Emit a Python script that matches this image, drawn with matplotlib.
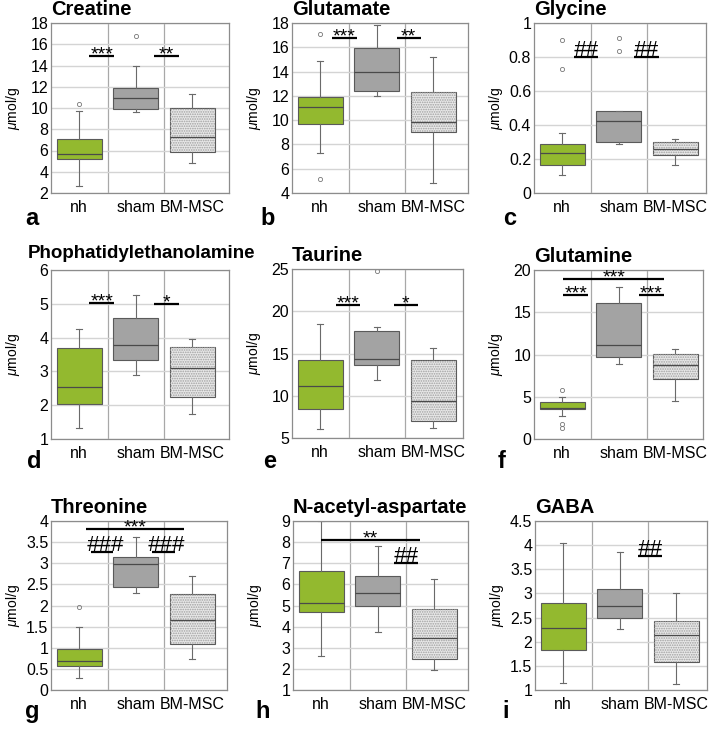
import matplotlib
matplotlib.use('Agg')
import matplotlib.pyplot as plt
from matplotlib.patches import PathPatch
from matplotlib.ticker import FuncFormatter
from matplotlib.transforms import ScaledTranslation
import numpy as np

plt.rcParams['font.family'] = ['Liberation Sans', 'DejaVu Sans']
plt.rcParams['mathtext.fontset'] = 'custom'
plt.rcParams['mathtext.it'] = 'Liberation Sans:italic'
plt.rcParams['mathtext.rm'] = 'Liberation Sans'
plt.rcParams['hatch.linewidth'] = 0.8

groups = ['nh', 'sham', 'BM-MSC']
titles = ['Creatine', 'Glutamate', 'Glycine', 'Phophatidylethanolamine', 'Taurine',
          'Glutamine', 'Threonine', 'N-acetyl-aspartate', 'GABA']
letters = ['a', 'b', 'c', 'd', 'e', 'f', 'g', 'h', 'i']

# whisker low, q1, median, q3, whisker high  (nh, sham, BM-MSC)
creatine = [[2.7, 5.2, 5.7, 7.1, 9.7], [9.6, 9.95, 10.9, 11.85, 13.95], [4.8, 5.9, 7.25, 10.0, 11.35]]
creatine_out = [[10.35], [16.75], []]
glutamate = [[7.26, 9.68, 11.1, 11.93, 14.85], [12.0, 12.4, 13.96, 15.97, 17.83], [4.83, 9.04, 9.84, 12.35, 15.19]]
glutamate_out = [[17.1, 5.17], [], []]
glycine = [[0.107, 0.164, 0.237, 0.29, 0.353], [0.29, 0.30, 0.426, 0.48, 0.48], [0.162, 0.221, 0.26, 0.302, 0.32]]
glycine_out = [[0.73, 0.90], [0.836, 0.911], []]
pe = [[1.33, 2.04, 2.53, 3.68, 4.26], [2.89, 3.35, 3.79, 4.58, 5.25], [1.74, 2.25, 3.11, 3.71, 3.96]]
pe_out = [[], [], []]
taurine = [[6.1, 8.42, 11.18, 14.26, 18.48], [11.86, 13.68, 14.35, 17.66, 18.1], [6.18, 7.05, 9.38, 14.19, 15.65]]
taurine_out = [[], [24.8], []]
glutamine = [[2.69, 3.52, 3.64, 4.39, 4.98], [8.89, 9.72, 11.07, 16.05, 18.02], [4.5, 7.11, 8.81, 10.04, 10.67]]
glutamine_out = [[5.77, 1.25, 1.75], [], []]
threonine = [[0.28, 0.57, 0.69, 0.97, 1.48], [2.30, 2.44, 2.99, 3.15, 3.62], [0.73, 1.09, 1.65, 2.27, 2.69]]
threonine_out = [[1.96], [], []]
naa = [[2.62, 4.7, 5.11, 6.61, 9.0], [3.73, 5.0, 5.59, 6.4, 7.83], [1.95, 2.48, 3.45, 4.82, 6.24]]
naa_out = [[], [], []]
gaba = [[1.14, 1.83, 2.29, 2.81, 4.05], [2.27, 2.49, 2.73, 3.09, 3.85], [1.12, 1.59, 2.13, 2.43, 3.01]]
gaba_out = [[], [], []]

panel_stats = [creatine, glutamate, glycine, pe, taurine, glutamine, threonine, naa, gaba]
panel_out = [creatine_out, glutamate_out, glycine_out, pe_out, taurine_out,
             glutamine_out, threonine_out, naa_out, gaba_out]

ylims = [(2, 18), (4, 18), (0, 1), (1, 6), (5, 25), (0, 20), (0, 4), (1, 9), (1, 4.5)]
ysteps = [2, 2, 0.2, 1, 5, 5, 0.5, 1, 0.5]

# significance marks: text, x from, x to, y
sig = [
    [('***', 1.18, 1.62, 14.85), ('**', 2.32, 2.76, 14.85)],
    [('***', 1.2, 1.65, 16.77), ('**', 2.35, 2.78, 16.77)],
    [('##', 1.2, 1.63, 0.80), ('##', 2.27, 2.71, 0.80)],
    [('***', 1.18, 1.62, 5.03), ('*', 2.32, 2.76, 5.0)],
    [('***', 1.27, 1.7, 20.7), ('*', 2.3, 2.73, 20.7)],
    [('***', 1.02, 1.46, 17.1), ('***', 2.36, 2.8, 17.1), ('***', 1.02, 2.8, 18.9)],
    [('###', 1.2, 1.6, 3.27), ('###', 2.28, 2.7, 3.27), ('***', 1.12, 2.86, 3.82)],
    [('**', 1.0, 2.75, 8.1), ('##', 2.29, 2.71, 7.03)],
    [('##', 2.32, 2.75, 3.78)],
]

# axes boxes in pixels: left, top, width, height
boxes_px = [(51, 23, 178, 170), (292, 23, 176, 170), (534, 23, 172, 170),
            (51, 270, 178, 169), (292, 269, 171, 169), (534, 270, 169, 169),
            (51, 521, 176, 169), (293, 521, 175, 169), (535, 521, 172, 169)]
letter_px = [(25, 225), (260, 225), (503, 225), (27, 468), (263, 468), (498, 468),
             (25, 718), (255, 718), (502, 718)]

W, H = 709, 732
colors = ['#93b92f', '#a3a3a3', '#e8e8e8']

fig = plt.figure(figsize=(W / 100, H / 100), dpi=100)

for i in range(9):
    l, t, w, h = boxes_px[i]
    ax = fig.add_axes([l / W, 1 - (t + h) / H, w / W, h / H])
    st = []
    for g in range(3):
        s = panel_stats[i][g]
        st.append(dict(whislo=s[0], q1=s[1], med=s[2], q3=s[3], whishi=s[4],
                       fliers=panel_out[i][g], label=groups[g]))
    res = ax.bxp(st, positions=[1, 2, 3], widths=0.8, capwidths=0.1, patch_artist=True,
                 boxprops=dict(edgecolor='#5a5a5a', linewidth=0.8),
                 whiskerprops=dict(color='#6a6a6a', linewidth=0.8, linestyle='-'),
                 capprops=dict(color='#6a6a6a', linewidth=0.8),
                 medianprops=dict(color='#4a4a4a', linewidth=0.9),
                 flierprops=dict(marker='o', markersize=3, markerfacecolor='none',
                                 markeredgecolor='#777777', markeredgewidth=0.6))
    for b, c in zip(res['boxes'], colors):
        b.set_facecolor(c)
        b.set_zorder(2)
    # dotted texture on BM-MSC box
    dots = PathPatch(res['boxes'][2].get_path(), facecolor='none', edgecolor='#a0a0a0',
                     linewidth=0, hatch='.......', zorder=2.1)
    ax.add_patch(dots)
    for m in res['medians']:
        m.set_zorder(3)

    ax.set_xlim(0.5, 0.5 + w / 56.5)
    y0, y1 = ylims[i]
    ax.set_ylim(y0, y1)
    ax.set_yticks(np.arange(y0, y1 + ysteps[i] / 2, ysteps[i]))
    ax.yaxis.set_major_formatter(FuncFormatter(lambda v, p: '%g' % round(v, 3)))
    ax.grid(axis='y', color='#d4d4d4', linewidth=1.0, zorder=0)
    ax.set_axisbelow(True)
    for xv in [1.5, 2.5]:
        ax.axvline(xv, color='#a8a8a8', linewidth=0.9, zorder=0.5)
    ax.tick_params(length=0, labelsize=11.5, pad=2, colors='black')
    ax.tick_params(axis='x', pad=5)
    for sp in ax.spines.values():
        sp.set_color('#8c8c8c')
        sp.set_linewidth(0.9)
    ax.set_ylabel(r'$\mu$mol/g', fontsize=10)
    ax.yaxis.set_label_coords(-38 / w, 0.5)
    ax.yaxis.label.set_verticalalignment('center')

    # title, left-aligned just above the frame
    tx = -23 / w if i == 3 else 0.0
    ttl_size = 13.5 if i == 3 else 14.5
    lift = 8.5 if i == 3 else 6
    ax.text(tx, 1.0, titles[i], ha='left', va='baseline', fontsize=ttl_size, fontweight='bold',
            transform=ax.transAxes + ScaledTranslation(0, lift / 72, fig.dpi_scale_trans))

    for txt, xa, xb, yv in sig[i]:
        ax.plot([xa, xb], [yv, yv], color='black', linewidth=1.6, solid_capstyle='butt',
                zorder=4, clip_on=False)
        xc = (xa + xb) / 2
        if txt.startswith('#'):
            if len(txt) == 3:
                xc += 0.05
            ax.annotate(txt, (xc, yv), xytext=(0, 0.5), textcoords='offset points',
                        ha='center', va='baseline', fontsize=16, style='italic', zorder=5)
        else:
            ax.annotate(txt, (xc, yv), xytext=(0, -2.5), textcoords='offset points',
                        ha='center', va='baseline', fontsize=14, zorder=5)

    lx, ly = letter_px[i]
    fig.text(lx / W, 1 - ly / H, letters[i], fontsize=17, fontweight='bold',
             ha='left', va='baseline')

fig.savefig('out.png', dpi=100)
